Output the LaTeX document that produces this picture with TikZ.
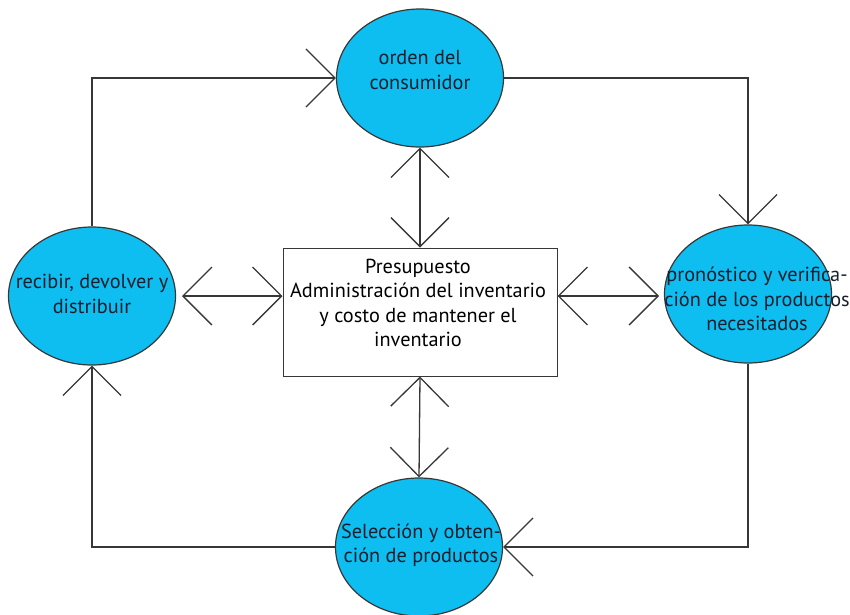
\documentclass[tikz,border=0pt]{standalone}
\usepackage{fontspec}
\setmainfont{PT Sans}
\usetikzlibrary{arrows.meta,shapes.geometric}
\definecolor{ellblue}{RGB}{14,190,240}
\definecolor{linegray}{RGB}{55,55,55}
\definecolor{txtdark}{RGB}{22,30,45}
\begin{document}
\begin{tikzpicture}[x=1pt,y=-1pt,
  oval/.style={ellipse, draw=linegray, line width=1.2pt, fill=ellblue,
    minimum width=167pt, minimum height=138pt, inner sep=0pt},
  ovaltext/.style={text=txtdark, align=center, inner sep=0pt,
    font=\fontsize{20.3}{24.5}\selectfont},
  boxtext/.style={text=black, align=center, inner sep=0pt,
    font=\fontsize{20.3}{24.5}\selectfont},
  conn/.style={draw=linegray, line width=1.3pt},
  tip/.style={-{Straight Barb[length=29pt,width=58pt,line width=1.3pt]}},
  dtip/.style={{Straight Barb[length=29pt,width=58pt,line width=1.3pt]}-{Straight Barb[length=29pt,width=58pt,line width=1.3pt]}},
]
\useasboundingbox (0,0) rectangle (850,614);
\clip (0,0) rectangle (850,614);

\node[oval] (top) at (420,78) {};
\node[oval] (left) at (92,296) {};
\node[oval] (right) at (748,294) {};
\node[oval] (bottom) at (419,547) {};
\node[draw=linegray, line width=1pt, fill=white, minimum width=274pt, minimum height=128pt, inner sep=0pt] (box) at (420,312) {};

\node[ovaltext] (topT) at (420,70) {orden del\\consumidor};
\node[ovaltext] (leftT) at (92,294) {recibir, devolver y\\distribuir};
\node[ovaltext] (rightT) at (757,299) {pronóstico y verifica-\\ción de los productos\\necesitados};
\node[ovaltext] (bottomT) at (421,545) {Selección y obten-\\ción de productos};
\node[boxtext] (boxT) at (418,303) {Presupuesto\\Administración del inventario\\y costo de mantener el\\inventario};

\draw[conn,tip] (left.north) |- (top.west);
\draw[conn,tip] (top.east) -| (right.north);
\draw[conn,tip] (right.south) |- (bottom.east);
\draw[conn,tip] (bottom.west) -| (left.south);

\draw[conn,dtip] (top.south) -- (box.north);
\draw[conn,dtip] (box.south) -- (bottom.north);
\draw[conn,dtip] (box.west |- 0,296) -- (182,296);
\draw[conn,dtip] (box.east |- 0,296) -- (659,296);
\end{tikzpicture}
\end{document}
